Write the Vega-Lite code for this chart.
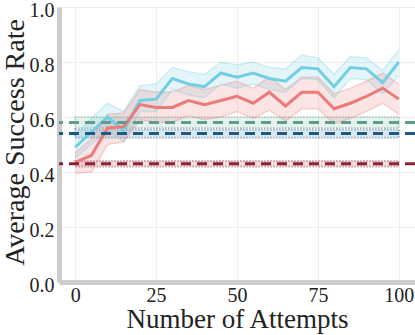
{
  "$schema": "https://vega.github.io/schema/vega-lite/v6.json",
  "autosize": "none",
  "width": 356,
  "height": 275,
  "padding": {"left": 59, "top": 7, "right": 0, "bottom": 53},
  "background": "white",
  "config": {
    "view": {"stroke": null},
    "font": "Liberation Serif",
    "axis": {
      "labelFont": "Liberation Serif",
      "titleFont": "Liberation Serif",
      "labelFontSize": 20,
      "titleFontSize": 28,
      "labelColor": "#222222",
      "titleColor": "#222222",
      "titleFontWeight": "normal",
      "domainColor": "#cccccc",
      "domainWidth": 5,
      "gridColor": "#eeeeee",
      "gridWidth": 1,
      "ticks": false,
      "labelPadding": 5
    }
  },
  "datasets": {
    "series": [
      {"x": 0, "m": "A", "mean": 0.49, "lo": 0.45, "hi": 0.53},
      {"x": 5, "m": "A", "mean": 0.545, "lo": 0.50, "hi": 0.595},
      {"x": 10, "m": "A", "mean": 0.60, "lo": 0.55, "hi": 0.65},
      {"x": 15, "m": "A", "mean": 0.55, "lo": 0.51, "hi": 0.62},
      {"x": 20, "m": "A", "mean": 0.66, "lo": 0.62, "hi": 0.715},
      {"x": 25, "m": "A", "mean": 0.665, "lo": 0.62, "hi": 0.72},
      {"x": 30, "m": "A", "mean": 0.74, "lo": 0.70, "hi": 0.78},
      {"x": 35, "m": "A", "mean": 0.72, "lo": 0.68, "hi": 0.765},
      {"x": 40, "m": "A", "mean": 0.71, "lo": 0.67, "hi": 0.755},
      {"x": 45, "m": "A", "mean": 0.76, "lo": 0.72, "hi": 0.80},
      {"x": 50, "m": "A", "mean": 0.745, "lo": 0.705, "hi": 0.79},
      {"x": 55, "m": "A", "mean": 0.76, "lo": 0.72, "hi": 0.80},
      {"x": 60, "m": "A", "mean": 0.74, "lo": 0.70, "hi": 0.78},
      {"x": 65, "m": "A", "mean": 0.73, "lo": 0.69, "hi": 0.775},
      {"x": 70, "m": "A", "mean": 0.78, "lo": 0.74, "hi": 0.825},
      {"x": 75, "m": "A", "mean": 0.775, "lo": 0.735, "hi": 0.815},
      {"x": 80, "m": "A", "mean": 0.71, "lo": 0.67, "hi": 0.755},
      {"x": 85, "m": "A", "mean": 0.78, "lo": 0.74, "hi": 0.82},
      {"x": 90, "m": "A", "mean": 0.775, "lo": 0.735, "hi": 0.815},
      {"x": 95, "m": "A", "mean": 0.725, "lo": 0.685, "hi": 0.77},
      {"x": 100, "m": "A", "mean": 0.80, "lo": 0.75, "hi": 0.845},
      {"x": 0, "m": "B", "mean": 0.435, "lo": 0.395, "hi": 0.47},
      {"x": 5, "m": "B", "mean": 0.46, "lo": 0.40, "hi": 0.52},
      {"x": 10, "m": "B", "mean": 0.56, "lo": 0.50, "hi": 0.61},
      {"x": 15, "m": "B", "mean": 0.565, "lo": 0.51, "hi": 0.615},
      {"x": 20, "m": "B", "mean": 0.645, "lo": 0.59, "hi": 0.70},
      {"x": 25, "m": "B", "mean": 0.635, "lo": 0.58, "hi": 0.69},
      {"x": 30, "m": "B", "mean": 0.635, "lo": 0.58, "hi": 0.69},
      {"x": 35, "m": "B", "mean": 0.66, "lo": 0.605, "hi": 0.715},
      {"x": 40, "m": "B", "mean": 0.645, "lo": 0.59, "hi": 0.70},
      {"x": 45, "m": "B", "mean": 0.66, "lo": 0.60, "hi": 0.715},
      {"x": 50, "m": "B", "mean": 0.675, "lo": 0.62, "hi": 0.73},
      {"x": 55, "m": "B", "mean": 0.65, "lo": 0.595, "hi": 0.705},
      {"x": 60, "m": "B", "mean": 0.69, "lo": 0.625, "hi": 0.745},
      {"x": 65, "m": "B", "mean": 0.64, "lo": 0.585, "hi": 0.70},
      {"x": 70, "m": "B", "mean": 0.69, "lo": 0.63, "hi": 0.745},
      {"x": 75, "m": "B", "mean": 0.69, "lo": 0.63, "hi": 0.745},
      {"x": 80, "m": "B", "mean": 0.63, "lo": 0.575, "hi": 0.685},
      {"x": 85, "m": "B", "mean": 0.65, "lo": 0.595, "hi": 0.705},
      {"x": 90, "m": "B", "mean": 0.675, "lo": 0.62, "hi": 0.73},
      {"x": 95, "m": "B", "mean": 0.705, "lo": 0.65, "hi": 0.76},
      {"x": 100, "m": "B", "mean": 0.665, "lo": 0.61, "hi": 0.72}
    ],
    "baselines": [
      {"name": "C", "y": 0.58, "lo": 0.56, "hi": 0.60, "x0": 0, "x1": 100},
      {"name": "D", "y": 0.54, "lo": 0.525, "hi": 0.555, "x0": 0, "x1": 100},
      {"name": "E", "y": 0.43, "lo": 0.42, "hi": 0.44, "x0": 0, "x1": 100}
    ]
  },
  "layer": [
    {
      "data": {"name": "baselines"},
      "mark": {"type": "rect", "fillOpacity": 0.15, "strokeOpacity": 0.4, "strokeWidth": 2, "strokeDash": [1.5, 1.5]},
      "encoding": {
        "x": {"field": "x0", "type": "quantitative", "scale": {"domain": [-5, 105], "nice": false, "zero": false},
              "axis": {"title": "Number of Attempts", "values": [0, 25, 50, 75, 100], "grid": true, "titleFontSize": 27, "labelPadding": 3, "titleBaseline": "alphabetic", "titleY": 45}},
        "x2": {"field": "x1"},
        "y": {"field": "lo", "type": "quantitative", "scale": {"domain": [0, 1], "nice": false},
              "axis": {"title": "Average Success Rate", "values": [0, 0.2, 0.4, 0.6, 0.8, 1.0], "format": ".1f", "grid": true, "titleFontSize": 28, "labelOffset": 3, "titleBaseline": "alphabetic", "titleX": -36, "titleY": 135}},
        "y2": {"field": "hi"},
        "fill": {"field": "name", "type": "nominal", "scale": {"domain": ["C", "D", "E"], "range": ["#5c9f8e", "#1a5b87", "#8e2433"]}, "legend": null},
        "stroke": {"field": "name", "type": "nominal", "scale": {"domain": ["C", "D", "E"], "range": ["#5c9f8e", "#1a5b87", "#8e2433"]}, "legend": null}
      }
    },
    {
      "data": {"name": "series"},
      "mark": {"type": "area", "fillOpacity": 0.2, "stroke": null},
      "encoding": {
        "x": {"field": "x", "type": "quantitative"},
        "y": {"field": "lo", "type": "quantitative"},
        "y2": {"field": "hi"},
        "fill": {"field": "m", "type": "nominal", "scale": {"domain": ["A", "B"], "range": ["#72cfe3", "#eb7a7a"]}, "legend": null},
        "detail": {"field": "m"}
      }
    },
    {
      "data": {"name": "series"},
      "mark": {"type": "line", "strokeWidth": 1.5, "opacity": 0.3},
      "encoding": {
        "x": {"field": "x", "type": "quantitative"},
        "y": {"field": "hi", "type": "quantitative"},
        "color": {"field": "m", "type": "nominal", "scale": {"domain": ["A", "B"], "range": ["#72cfe3", "#eb7a7a"]}, "legend": null}
      }
    },
    {
      "data": {"name": "series"},
      "mark": {"type": "line", "strokeWidth": 1.5, "opacity": 0.3},
      "encoding": {
        "x": {"field": "x", "type": "quantitative"},
        "y": {"field": "lo", "type": "quantitative"},
        "color": {"field": "m", "type": "nominal", "scale": {"domain": ["A", "B"], "range": ["#72cfe3", "#eb7a7a"]}, "legend": null}
      }
    },
    {
      "data": {"name": "series"},
      "mark": {"type": "line", "strokeWidth": 3},
      "encoding": {
        "x": {"field": "x", "type": "quantitative"},
        "y": {"field": "mean", "type": "quantitative"},
        "color": {"field": "m", "type": "nominal", "scale": {"domain": ["A", "B"], "range": ["#72cfe3", "#eb7a7a"]}, "legend": null}
      }
    },
    {
      "data": {"name": "baselines"},
      "mark": {"type": "rule", "strokeWidth": 3, "strokeDash": [10, 6]},
      "encoding": {
        "y": {"field": "y", "type": "quantitative"},
        "color": {"field": "name", "type": "nominal", "scale": {"domain": ["C", "D", "E"], "range": ["#5c9f8e", "#1a5b87", "#8e2433"]}, "legend": null}
      }
    }
  ],
  "resolve": {"scale": {"color": "independent", "fill": "independent", "stroke": "independent"}}
}
